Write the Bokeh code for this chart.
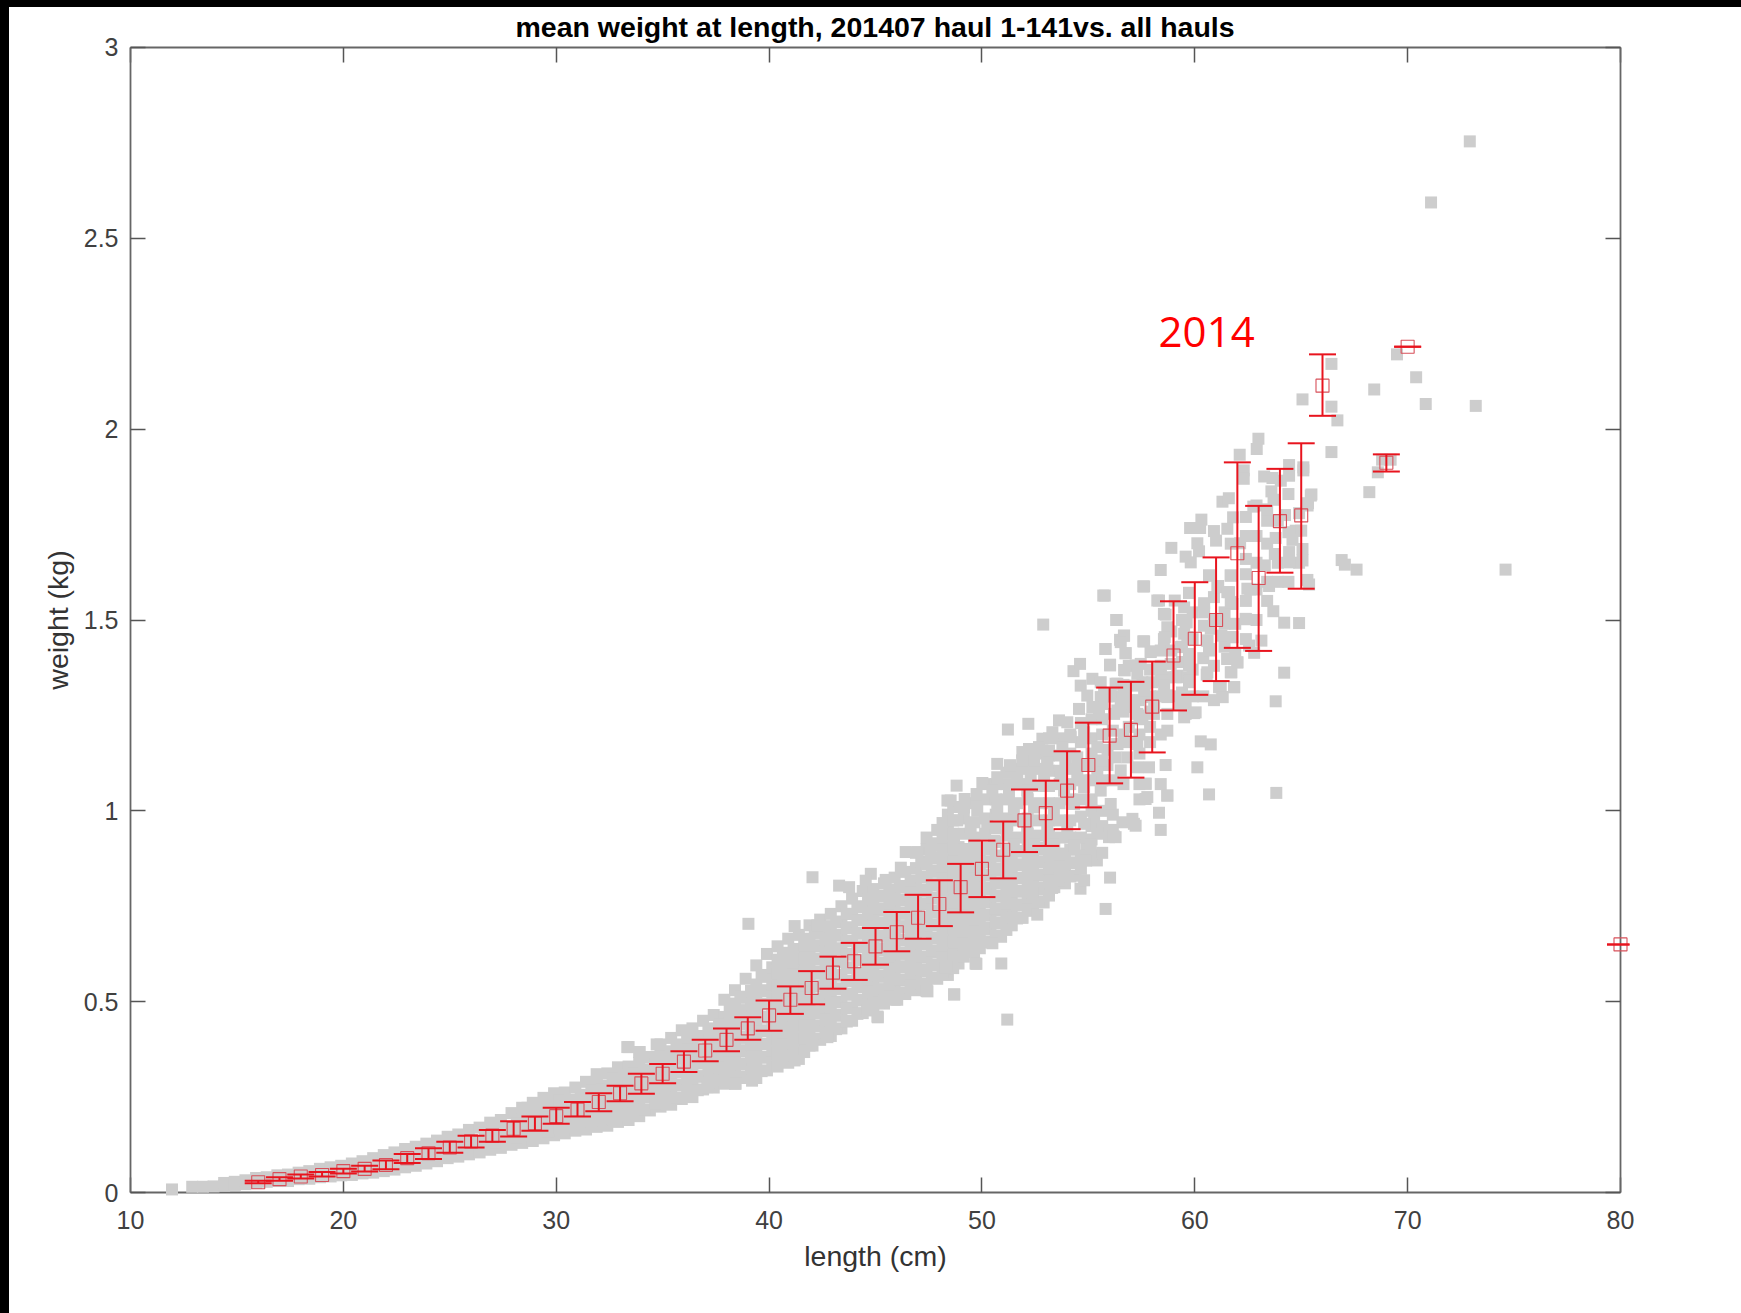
from bokeh.plotting import figure
from bokeh.models import ColumnDataSource, FixedTicker, LinearAxis, Label, Range1d, Title, Whisker, TeeHead
from bokeh.embed import file_html
from bokeh.resources import INLINE

TITLE = "mean weight at length, 201407 haul 1-141vs. all hauls"
X_LABEL = "length (cm)"
Y_LABEL = "weight (kg)"
ANNOTATION = "2014"
x_ticks = [10, 20, 30, 40, 50, 60, 70, 80]
y_ticks = [0, 0.5, 1, 1.5, 2, 2.5, 3]
y_tick_labels = ["0", "0.5", "1", "1.5", "2", "2.5", "3"]

# 2014 means at length, with their error bars
mean_len = list(range(16, 67)) + [69, 70, 80]
mean_wt = [.027,.035,.042,.046,.056,.062,.072,.09,.103,.118,.134,.149,.167,.181,.2,.217,.237,.26,.286,.311,
           .343,.372,.4,.43,.464,.505,.536,.576,.606,.645,.682,.72,.756,.8,.848,.898,.975,.994,1.053,1.12,
           1.197,1.212,1.273,1.407,1.451,1.5,1.675,1.61,1.759,1.774,2.114,1.912,2.216,.65]
err_low = [.024,.031,.037,.042,.05,.055,.061,.077,.088,.104,.118,.133,.147,.162,.18,.199,.213,.239,.259,.286,
           .316,.344,.37,.4,.424,.468,.493,.534,.557,.597,.632,.665,.698,.734,.774,.823,.892,.908,.952,1.009,
           1.072,1.087,1.153,1.263,1.304,1.34,1.427,1.419,1.624,1.582,2.035,1.889,2.216,.65]
err_high = [.031,.04,.047,.054,.062,.07,.084,.101,.116,.133,.149,.164,.187,.199,.222,.237,.26,.28,.311,.337,
            .37,.4,.43,.459,.503,.54,.58,.618,.654,.693,.735,.78,.818,.861,.922,.972,1.056,1.079,1.156,1.231,
            1.323,1.338,1.391,1.549,1.599,1.664,1.913,1.799,1.896,1.963,2.196,1.934,2.216,.65]

# all hauls: dense band, one column per half centimetre (length, weights)
band_12_20 = [(11.95,[.008]),(12.9,[.015]),(13.4,[.015]),(13.9,[.016]),(14.4,[.018,.025]),(14.9,[.02,.028]),
    (15.4,[.022,.032]),(15.9,[.025,.038]),(16.4,[.028,.04]),(16.9,[.03,.045]),(17.4,[.03,.047]),(17.9,[.035,.052]),
    (18.4,[.036,.056]),(18.9,[.04,.062]),(19.4,[.042,.066]),(19.9,[.045,.07])]
band_20_30 = [(20.4,[.046,.06,.076]),(20.9,[.05,.066,.082]),(21.4,[.052,.07,.09]),(21.9,[.056,.075,.098]),
    (22.4,[.06,.08,.105]),(22.9,[.066,.088,.114]),(23.4,[.07,.095,.12]),(23.9,[.076,.1,.128]),(24.4,[.082,.108,.136]),
    (24.9,[.09,.116,.146]),(25.4,[.094,.122,.152]),(25.9,[.1,.13,.164]),(26.4,[.105,.135,.17]),(26.9,[.112,.145,.183]),
    (27.4,[.117,.15,.19]),(27.9,[.125,.16,.208]),(28.4,[.13,.165,.2,.222]),(28.9,[.135,.17,.205,.235]),
    (29.4,[.142,.178,.214,.248]),(29.9,[.15,.185,.225,.26]),
    (26.65,[.125,.158]),(27.15,[.13,.165]),(27.65,[.135,.172]),(28.15,[.145,.18]),
    (28.65,[.152,.188,.222]),(29.15,[.153,.19,.222]),(29.65,[.16,.197,.232])]
band_30_40 = [(30.4,[.155,.19,.225,.262]),(30.9,[.162,.2,.235,.275]),(31.4,[.165,.205,.245,.29]),
    (31.9,[.172,.21,.25,.29,.31]),(32.4,[.175,.21,.245,.28,.312]),(32.9,[.185,.22,.255,.29,.328]),
    (33.4,[.19,.225,.26,.295,.33,.381]),(33.9,[.2,.235,.27,.305,.34,.368]),(34.4,[.215,.25,.285,.32,.355]),
    (34.9,[.225,.26,.295,.33,.365,.388]),(35.4,[.23,.265,.3,.335,.37,.405]),(35.9,[.245,.28,.315,.35,.385,.425]),
    (36.4,[.25,.285,.32,.355,.39,.43]),(36.9,[.27,.305,.34,.375,.41,.45]),(37.4,[.275,.31,.345,.38,.415,.465]),
    (37.9,[.285,.32,.355,.39,.425,.46,.505]),(38.4,[.285,.32,.355,.39,.425,.46,.495,.53]),
    (38.9,[.3,.335,.37,.405,.44,.475,.51,.56]),(39.4,[.3,.335,.37,.405,.44,.475,.51,.545,.595]),
    (39.9,[.32,.355,.39,.425,.46,.495,.53,.565,.625])]
band_30_40_between = [(30.15,[.168,.205,.242]),(30.65,[.172,.208,.243]),(31.15,[.18,.218,.256]),(31.65,[.185,.226,.268]),
    (32.15,[.191,.23,.27]),(32.65,[.193,.228,.263,.298]),(33.15,[.203,.238,.273,.308]),(33.65,[.208,.243,.278,.313]),
    (34.15,[.218,.253,.288,.323]),(34.65,[.233,.268,.303,.338]),(35.15,[.243,.278,.313,.348]),(35.65,[.248,.283,.318,.353,.388]),
    (36.15,[.263,.298,.333,.368,.405]),(36.65,[.268,.303,.338,.373,.408]),(37.15,[.288,.323,.358,.393,.43]),
    (37.65,[.293,.328,.363,.398,.44]),(38.15,[.303,.338,.373,.408,.443,.48]),(38.65,[.303,.338,.373,.408,.443,.478,.513]),
    (39.15,[.318,.353,.388,.423,.458,.493,.528]),(39.65,[.318,.353,.388,.423,.458,.493,.528,.57]),
    (40.15,[.338,.373,.408,.443,.478,.513,.548,.59])]
band_40_50 = [(40.4,[.33,.365,.4,.435,.47,.505,.54,.575,.61,.645]),(40.9,[.34,.375,.41,.445,.48,.515,.55,.585,.62,.665]),
    (41.4,[.35,.385,.42,.455,.49,.525,.56,.595,.63,.675]),(41.9,[.385,.42,.455,.49,.525,.56,.595,.63,.665,.7]),
    (42.4,[.4,.435,.47,.505,.54,.575,.61,.645,.68,.715]),(42.9,[.41,.445,.48,.515,.55,.585,.62,.655,.69,.73]),
    (43.4,[.43,.465,.5,.535,.57,.605,.64,.675,.71,.75]),(43.9,[.45,.485,.52,.555,.59,.625,.66,.695,.73,.77]),
    (44.4,[.47,.505,.54,.575,.61,.645,.68,.715,.75,.79]),(44.9,[.48,.515,.55,.585,.62,.655,.69,.725,.76,.795]),
    (45.4,[.495,.53,.565,.6,.635,.67,.705,.74,.775,.81]),(45.9,[.505,.54,.575,.61,.645,.68,.715,.75,.785,.825]),
    (46.4,[.52,.555,.59,.625,.66,.695,.73,.765,.8,.84]),(46.9,[.53,.565,.6,.635,.67,.705,.74,.775,.81,.85,.89]),
    (47.4,[.545,.58,.615,.65,.685,.72,.755,.79,.825,.86,.9,.93]),(47.9,[.56,.595,.63,.665,.7,.735,.77,.805,.84,.875,.91,.95]),
    (48.4,[.57,.605,.64,.675,.71,.745,.78,.815,.85,.885,.92,.955,.99]),(48.9,[.6,.635,.67,.705,.74,.775,.81,.845,.88,.905]),
    (49.4,[.63,.665,.7,.735,.77,.805,.84,.875,.9]),(49.9,[.64,.675,.71,.745,.78,.815,.85,.885])]
band_40_50_between = [(40.65,[.348,.383,.418,.453,.488,.523,.558,.593,.628]),(41.15,[.358,.393,.428,.463,.498,.533,.568,.603,.638]),
    (41.65,[.368,.403,.438,.473,.508,.543,.578,.613,.648]),(42.15,[.403,.438,.473,.508,.543,.578,.613,.648,.683]),
    (42.65,[.418,.453,.488,.523,.558,.593,.628,.663,.698]),(43.15,[.428,.463,.498,.533,.568,.603,.638,.673,.708]),
    (43.65,[.448,.483,.518,.553,.588,.623,.658,.693,.73]),(44.15,[.468,.503,.538,.573,.608,.643,.678,.713,.748]),
    (44.65,[.488,.523,.558,.593,.628,.663,.698,.733,.768]),(45.15,[.498,.533,.568,.603,.638,.673,.708,.743,.778]),
    (45.65,[.513,.548,.583,.618,.653,.688,.723,.758,.793]),(46.15,[.523,.558,.593,.628,.663,.698,.733,.768,.803]),
    (46.65,[.538,.573,.608,.643,.678,.713,.748,.783,.818]),(47.15,[.548,.583,.618,.653,.688,.723,.758,.793,.828,.868]),
    (47.65,[.563,.598,.633,.668,.703,.738,.773,.808,.843,.878,.915]),(48.15,[.578,.613,.648,.683,.718,.753,.788,.823,.858,.893,.93,.968]),
    (48.65,[.588,.623,.658,.693,.728,.763,.798,.833,.868,.903,.94,.975,1.01]),(49.15,[.618,.653,.688,.723,.758,.793,.828,.863,.898,.94,.98]),
    (49.65,[.648,.683,.718,.753,.788,.823,.858,.893,.93,.97,1.02])]
band_50_57 = [(50.4,[.655,.69,.725,.76,.795,.83,.865,.9]),(50.9,[.67,.705,.74,.775,.81,.845,.88]),
    (51.4,[.7,.735,.77,.805,.84,.875]),(51.9,[.72,.755,.79,.825,.86,.895]),(52.4,[.745,.78,.815,.85,.885]),
    (52.9,[.76,.795,.83,.865,.9]),(53.4,[.8,.835,.87,.905]),(53.9,[.81,.845,.88]),(54.4,[.83,.865]),(54.9,[.87,.9]),(55.4,[.87]),
    (50.15,[.658,.693,.728,.763,.798,.833,.868,.903,.94,.98,1.03,1.07]),(50.65,[.673,.708,.743,.778,.813,.848,.883,.918,.955,.99,1.03,1.07]),
    (51.15,[.688,.723,.758,.793,.828,.863,.898,.935,.98,1.03,1.07,1.1]),(51.65,[.718,.753,.788,.823,.858,.893,.93,.975,1.02,1.07,1.11]),
    (52.15,[.738,.773,.808,.843,.878,.915,.94,.98,1.03,1.07,1.11]),(52.65,[.763,.798,.833,.868,.903,.935,.975,1.02,1.065,1.11,1.15]),
    (53.15,[.778,.813,.848,.883,.918,.935,.975,1.02,1.065,1.105,1.145,1.19]),(53.65,[.818,.853,.888,.93,.975,1.02,1.07,1.105,1.145,1.19]),
    (54.15,[.828,.863,.898,.93,.975,1.03,1.07,1.11,1.15,1.2]),(54.65,[.848,.883,.93,.985,1.03,1.08,1.12,1.18,1.23]),
    (55.15,[.885,.925,.96,1.0,1.03,1.08,1.12,1.15,1.19,1.24]),(55.65,[.89,.96,1.0,1.08,1.2,1.24,1.28]),
    (56.15,[.95,.99,1.08,1.21,1.3]),(56.65,[1.07,1.2,1.26,1.33])]
band_56_65 = [(55.9,[1.12,1.16,1.3]),(56.9,[1.18,1.22,1.29,1.38]),(57.4,[1.03,1.07,1.15,1.2,1.24,1.29]),(57.9,[1.18,1.22,1.26,1.3,1.37]),
    (58.4,[1.07,1.2,1.3,1.38,1.42]),(58.9,[1.3,1.42,1.47]),(59.4,[1.31,1.35,1.39,1.43,1.5]),(59.9,[1.3,1.37,1.45,1.52]),
    (60.4,[1.3,1.4]),(60.9,[1.29,1.38,1.5,1.56]),(61.4,[1.43,1.49,1.52]),(61.9,[1.41,1.49]),(62.4,[1.45,1.55,1.62,1.66,1.72,1.77]),
    (62.9,[1.5,1.58,1.65,1.72,1.8]),(63.4,[1.55,1.6,1.7,1.76,1.79]),(63.9,[1.6,1.65,1.76]),(64.4,[1.6,1.73,1.83]),(64.9,[1.65,1.78])]

# all hauls: single points readable in the upper part of the cloud and the outliers
upper_x_a = [48.53,49.19,49.75,50.02,50.49,50.72,51.27,51.32,51.66,51.9,52.13,52.29,52.45,52.92,53.07,53.7,53.86,53.93,54.48,54.8,
             55.42,55.58,55.66,56.28,56.36,56.52,56.83,57.3,48.81,49.16,49.78,50.72,51.5,52.45,53.38,54.33,55.27,56.05,56.6,57.07,
             57.22,57.77,57.69,48.84,49.47,50.25,51.19,52.13,53.07,54.01,54.8,55.42,55.97,56.28,48.69,49.63,50.57,51.5,52.45,53.38,
             54.33,55.11,51.22,52.18,53.62,54.01,52.84,53.31,54.17,54.8,51.9,52.21,52.68,53.15,53.78,50.72,51.32,51.9,52.45,53.07]
upper_y_a = [1.027,1.031,1.044,1.073,1.053,1.088,1.049,1.119,1.097,1.132,1.053,1.088,1.132,1.088,1.123,1.088,1.053,1.123,1.097,1.062,
             1.106,1.053,1.132,1.14,1.175,1.106,1.14,1.175,1.066,1.009,1.0,1.009,1.005,1.009,1.0,1.018,.983,1.018,.97,.979,
             .961,1.036,1.071,.975,.957,.966,.961,.957,.957,.948,.966,.94,.931,.931,.931,.913,.922,.913,.913,.913,
             .909,.913,1.213,1.228,1.237,1.232,1.189,1.206,1.193,1.206,1.154,1.162,1.167,1.158,1.167,1.123,1.119,1.132,1.132,1.123]
upper_x_b = [53.93,54.48,55.42,56.36,54.3,54.61,54.64,55.19,55.58,55.81,56.02,56.31,56.36,56.49,56.67,56.68,56.75,57.22,57.54,57.58,
             57.58,57.93,58.0,58.32,58.4,58.4,58.55,58.55,58.71,58.71,58.87,59.18,59.34,59.57,59.65,59.73,59.73,59.73,60.43,60.43,
             60.59,60.59,60.67,60.67,61.06,61.22,61.3,61.53,61.61,61.69,61.72,61.77,61.77,61.85,62.0,62.39,62.47,54.95,55.58,56.68,
             57.77,58.71,59.57,60.04,59.5,54.56,55.19,55.5,56.36,57.3,58.08,58.71,60.28,60.75,60.12,58.71,58.4,58.32,57.69,57.69,
             58.63,57.85,57.3,55.7,55.81,56.02,51.19,48.69,47.4,50.91,49.7,49.63,50.49,52.6,51.9,51.5,52.37,53.3,54.63,54.8,
             54.87,56.2,57.14,52.88,45.11,44.61,46.02,48.3,45.4]
upper_y_b = [1.123,1.14,1.167,1.175,1.366,1.385,1.328,1.346,1.337,1.424,1.383,1.5,1.333,1.448,1.459,1.369,1.413,1.381,1.337,1.588,
             1.444,1.416,1.337,1.551,1.631,1.354,1.516,1.45,1.481,1.302,1.385,1.354,1.429,1.494,1.455,1.571,1.411,1.341,1.538,1.485,
             1.446,1.363,1.616,1.424,1.586,1.324,1.298,1.398,1.573,1.616,1.363,1.542,1.455,1.324,1.389,1.503,1.582,1.302,1.298,1.298,
             1.298,1.302,1.28,1.258,1.245,1.267,1.272,1.254,1.263,1.254,1.254,1.21,1.182,1.174,1.114,1.04,.95,.995,1.031,1.071,
             1.12,1.114,1.114,1.564,.743,.825,.453,.519,.528,.6,.6,.63,.653,.728,.72,.72,.787,.798,.796,.818,
             .87,.933,.966,1.488,.459,.477,.505,.59,.503]
upper_x_c = [62.99,62.91,62.11,62.3,62.3,65.1,64.43,63.26,63.65,64.04,64.43,63.6,63.7,65.48,65.32,61.3,61.6,62.75,64.24,61.8,
             60.31,59.78,60.25,60.9,61.53,61.0,64.74,65.0,63.8,64.59,65.06,60.12,62.13,61.69,58.9,60.2,59.57,59.81,63.76,64.43,
             64.43,65.06,63.29,61.69,60.67,57.62,63.49,65.29,65.37,62.6,61.1,61.53,55.77,59.73,58.24,59.06,60.44,61.69,59.5,58.63,
             60.44,63.69,64.2,64.9,56.33,59.62,62.41,60.75,56.68,57.62,58.59,59.5,56.52,55.8,56.75,57.93,59.73,60.59,61.77,61.25,
             63.13,62.55,62.79,61.53,62.0,60.67,56.02,57.46,58.24,58.79,59.73,56.71,57.3,61.69,60.56,64.2,63.8,61.85,61.14,61.3,
             59.73,58.48,57.69,59.1,56.28,56.68,56.05,57.15,57.62,58.71,59.34,59.97,59.57,56.52,57.15,58.09,56.21,57.54,55.74,58.56,58.71]
upper_y_c = [1.975,1.948,1.933,1.892,1.87,1.892,1.906,1.876,1.872,1.865,1.878,1.837,1.815,1.829,1.806,1.81,1.819,1.797,1.775,1.769,
             1.763,1.741,1.741,1.733,1.739,1.708,1.734,1.734,1.715,1.71,1.686,1.701,1.701,1.7,1.689,1.68,1.666,1.651,1.673,1.678,
             1.651,1.656,1.643,1.617,1.617,1.588,1.589,1.605,1.593,1.58,1.589,1.573,1.564,1.571,1.551,1.551,1.544,1.547,1.533,1.514,
             1.52,1.523,1.493,1.492,1.5,1.494,1.502,1.477,1.459,1.444,1.455,1.464,1.442,1.424,1.413,1.418,1.411,1.446,1.455,1.459,
             1.446,1.433,1.414,1.398,1.389,1.42,1.381,1.385,1.372,1.35,1.381,1.368,1.359,1.363,1.357,1.362,1.287,1.324,1.324,1.298,
             1.337,1.341,1.333,1.35,1.333,1.324,1.306,1.328,1.315,1.298,1.28,1.256,1.254,1.28,1.272,1.272,1.254,1.25,1.306,1.328,1.254]
outlier_x = [72.92,71.1,69.5,70.4,68.43,70.85,73.2,66.42,66.42,66.7,65.06,66.42,68.8,69.2,68.6,68.2,66.9,67.05,67.6,74.6,65.45,65.3,65.1,
             39.03,41.2,42.27,42.04,43.29,43.76,44.78,45.48,44.54,45.09,44.62,47.44,48.7,49.74,48.35,46.19,46.42,46.97,47.6,48.38,
             33.34,33.92,34.72,37.1,38.43,39.2,41.2,42.74,42.04,60.67,63.83,58.71]
outlier_y = [2.754,2.594,2.196,2.136,2.104,2.066,2.061,2.171,2.059,2.023,2.078,1.94,1.92,1.92,1.887,1.835,1.657,1.645,1.632,1.632,1.826,1.8,1.9,
             .704,.698,.7,.826,.804,.8,.835,.819,.817,.461,.479,.527,.519,.599,.592,.851,.892,.892,.892,1.027,
             .381,.368,.388,.276,.285,.293,.346,.407,.385,1.043,1.047,1.04]

grey_x, grey_y = [], []
for band in (band_12_20, band_20_30, band_30_40, band_30_40_between, band_40_50, band_40_50_between, band_50_57, band_56_65):
    for length, weights in band:
        grey_x += [length] * len(weights)
        grey_y += weights
grey_x += upper_x_a + upper_x_b + upper_x_c + outlier_x
grey_y += upper_y_a + upper_y_b + upper_y_c + outlier_y

AXIS = "#666666"
TICK_TEXT = "#404040"
FONT = "Liberation Sans"

# the frame reaches a little past the axes so that marks on the box edge are not cut
p = figure(width=1741, height=1313, output_backend="svg", toolbar_location=None,
           x_range=Range1d(10 - 0.4229, 80 + 0.4229), y_range=Range1d(-0.0131, 3.0131),
           frame_width=1508, frame_height=1155,
           x_axis_location="below", y_axis_location="left", tools="")
p.min_border_left = 121
p.min_border_right = 112
p.min_border_top = 42
p.min_border_bottom = 116
p.border_fill_color = None
p.background_fill_color = "white"
p.outline_line_color = None
p.grid.visible = False
# the black edges of the scanned slide, left and top
p.styles = {"box-shadow": "inset 9px 7px 0 0 #000"}

p.title = Title(text=TITLE, align="left", offset=394, text_font=FONT, text_font_size="28.5px",
                text_font_style="bold", text_color="#000000", standoff=-1)

label_x = p.xaxis[0]
label_y = p.yaxis[0]
label_x.bounds = (10, 80)
label_y.bounds = (0, 3)
label_x.ticker = FixedTicker(ticks=x_ticks)
label_y.ticker = FixedTicker(ticks=y_ticks)
label_y.major_label_overrides = {t_: l for t_, l in zip(y_ticks, y_tick_labels)}
label_x.axis_label = X_LABEL
label_y.axis_label = Y_LABEL

blank_x = {v: "" for v in x_ticks}
blank_y = {v: "" for v in y_ticks}
rule_bottom = LinearAxis(ticker=FixedTicker(ticks=x_ticks), bounds=(10, 80), fixed_location=0, major_label_overrides=blank_x)
rule_top = LinearAxis(ticker=FixedTicker(ticks=x_ticks), bounds=(10, 80), fixed_location=3, major_label_overrides=blank_x)
rule_left = LinearAxis(ticker=FixedTicker(ticks=y_ticks), bounds=(0, 3), fixed_location=10, major_label_overrides=blank_y)
rule_right = LinearAxis(ticker=FixedTicker(ticks=y_ticks), bounds=(0, 3), fixed_location=80, major_label_overrides=blank_y)
p.add_layout(rule_bottom, "below")
p.add_layout(rule_top, "above")
p.add_layout(rule_left, "left")
p.add_layout(rule_right, "right")

for a in (rule_bottom, rule_top, rule_left, rule_right):
    a.axis_line_color = AXIS
    a.axis_line_width = 1.8
    a.major_tick_line_color = "#555555"
    a.major_tick_line_width = 1.5
    a.major_tick_in = 15
    a.major_tick_out = 0
    a.minor_tick_line_color = None
for a in (label_x, label_y):
    a.axis_line_color = None
    a.major_tick_line_color = None
    a.major_tick_in = 0
    a.major_tick_out = 0
    a.minor_tick_line_color = None
    a.major_label_text_font = FONT
    a.major_label_text_font_size = "25px"
    a.major_label_text_color = TICK_TEXT
    a.axis_label_text_font = FONT
    a.axis_label_text_font_size = "28.5px"
    a.axis_label_text_font_style = "normal"
    a.axis_label_text_color = "#333333"
label_x.major_label_standoff = 13
label_y.major_label_standoff = 3
label_x.axis_label_standoff = 8
label_y.axis_label_standoff = 7

p.scatter(grey_x, grey_y, marker="square", size=12, fill_color="#cdcdcd", line_color=None, level="overlay")

src = ColumnDataSource(dict(x=mean_len, m=mean_wt, lo=err_low, hi=err_high))
red = "#e8141e"
w = Whisker(source=src, base="x", upper="hi", lower="lo", dimension="height",
            line_color=red, line_width=2, level="overlay",
            upper_head=TeeHead(size=27, line_color=red, line_width=2),
            lower_head=TeeHead(size=27, line_color=red, line_width=2))
p.add_layout(w)
p.scatter("x", "m", source=src, marker="square", size=13, fill_color=None, line_color="#d8505a", line_width=1.1, level="overlay")

p.add_layout(Label(x=58.3, y=2.255, text=ANNOTATION, text_font="Open Sans", text_font_size="42px",
                   text_color="#ff0000", text_baseline="alphabetic"))

open("out.html", "w").write(file_html(p, INLINE))
